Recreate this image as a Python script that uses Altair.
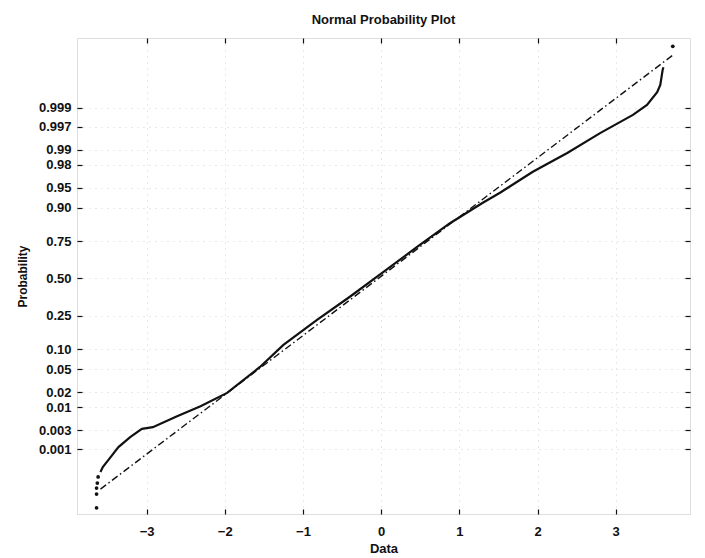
import altair as alt
import pandas as pd
from statistics import NormalDist

# ---- data ----
# sorted sample values (Data) and their normal-score position (probit of plotting probability)
curve_x = [-3.59, -3.56, -3.47, -3.36, -3.21, -3.06, -2.92, -2.61, -2.31, -1.97, -1.55,
           -1.25, -0.82, -0.40, 0.03, 0.46, 0.88, 1.30, 1.52, 1.94, 2.38, 2.80, 3.22,
           3.40, 3.53, 3.57, 3.60, 3.61]
curve_z = [-3.50, -3.41, -3.25, -3.05, -2.87, -2.72, -2.69, -2.49, -2.31, -2.07, -1.60,
           -1.20, -0.75, -0.33, 0.12, 0.57, 1.00, 1.37, 1.55, 1.93, 2.27, 2.63, 2.96,
           3.14, 3.37, 3.50, 3.77, 3.82]
# isolated extreme points
tail_x = [-3.64, -3.64, -3.64, -3.63, -3.62, 3.73]
tail_z = [-4.15, -3.90, -3.79, -3.70, -3.59, 4.20]
# dash-dot reference line
ref_x = [-3.59, 3.73]
ref_z = [-3.81, 4.04]

x_ticks = [-3, -2, -1, 0, 1, 2, 3]
prob_ticks = [0.001, 0.003, 0.01, 0.02, 0.05, 0.10, 0.25, 0.50, 0.75, 0.90, 0.95, 0.98, 0.99, 0.997, 0.999]
prob_labels = ["0.001", "0.003", "0.01", "0.02", "0.05", "0.10", "0.25", "0.50", "0.75",
               "0.90", "0.95", "0.98", "0.99", "0.997", "0.999"]

nd = NormalDist()
z_ticks = [nd.inv_cdf(p) for p in prob_ticks]

# label expression: pick nearest tick label
expr = "'" + prob_labels[-1] + "'"
for i in range(len(z_ticks) - 2, -1, -1):
    mid = (z_ticks[i] + z_ticks[i + 1]) / 2
    expr = f"datum.value < {mid:.5f} ? '{prob_labels[i]}' : ({expr})"

curve_df = pd.DataFrame({"x": curve_x, "z": curve_z})
tail_df = pd.DataFrame({"x": tail_x, "z": tail_z})
ref_df = pd.DataFrame({"x": ref_x, "z": ref_z})

FONT = "Liberation Sans"
xs = alt.Scale(domain=[-3.89, 3.95], nice=False, zero=False)
ys = alt.Scale(domain=[-4.26, 4.35], nice=False, zero=False)

common_axis = dict(tickSize=5, offset=-5, domain=False, tickColor="#111", tickWidth=1.2,
                   labelFont=FONT, labelFontSize=13, labelFontWeight="bold", labelColor="#111",
                   titleFont=FONT, titleColor="#111",
                   gridColor="#aaaaaa", gridDash=[1, 5], gridOpacity=0.5, gridWidth=1)

x_bottom = alt.Axis(orient="bottom", values=x_ticks, format="d", title="Data",
                    labelPadding=11, titleFontSize=13, titleFontWeight="bold", titlePadding=4,
                    grid=True, **common_axis)
y_left = alt.Axis(orient="left", values=z_ticks, labelExpr=expr, title="Probability",
                  labelPadding=6, titleFontSize=12, titleFontWeight="bold", titlePadding=9,
                  grid=True, **common_axis)

x_top = alt.Axis(orient="top", values=x_ticks, labels=False, title=None, grid=False,
                 tickSize=5, offset=-5, domain=False, tickColor="#111", tickWidth=1.2)
y_right = alt.Axis(orient="right", values=z_ticks, labels=False, title=None, grid=False,
                   tickSize=5, offset=-5, domain=False, tickColor="#111", tickWidth=1.2)

curve = alt.Chart(curve_df).mark_line(color="#111", strokeWidth=2.2).encode(
    x=alt.X("x:Q", scale=xs, axis=x_bottom),
    y=alt.Y("z:Q", scale=ys, axis=y_left),
)
ref = alt.Chart(ref_df).mark_line(color="#111", strokeWidth=1.4, strokeDash=[7, 3, 1.5, 3]).encode(
    x=alt.X("x:Q", scale=xs, axis=x_top),
    y=alt.Y("z:Q", scale=ys, axis=y_right),
)
tails = alt.Chart(tail_df).mark_circle(color="#111", size=14, opacity=1).encode(
    x=alt.X("x:Q", scale=xs, axis=None),
    y=alt.Y("z:Q", scale=ys, axis=None),
)

chart = alt.layer(curve, ref, tails).resolve_axis(x="independent", y="independent").properties(
    width=613, height=476,
    title=alt.TitleParams("Normal Probability Plot", font=FONT, fontSize=13, fontWeight="bold",
                          color="#111", anchor="middle", offset=10),
    autosize=alt.AutoSizeParams(type="none"),
    padding={"left": 69, "top": 30, "right": 7, "bottom": 43},
).configure_view(stroke="#111", strokeWidth=1.5).configure(background="white")

chart.save("out.html", embed_options={"renderer": "svg", "actions": False})
